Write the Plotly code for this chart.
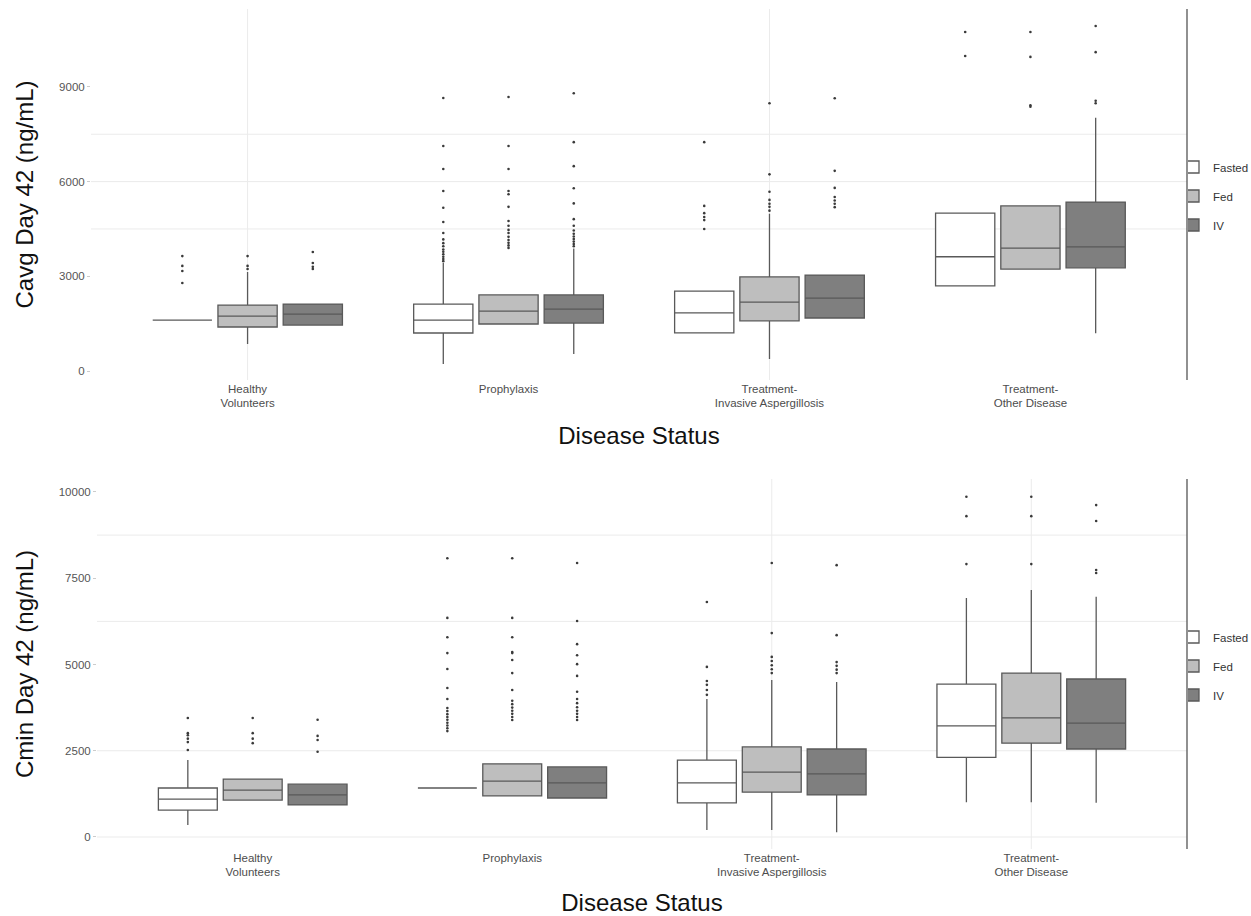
import plotly.graph_objects as go

# Disease-status categories shown on both panels
categories = ["Healthy<br>Volunteers", "Prophylaxis",
              "Treatment-<br>Invasive Aspergillosis", "Treatment-<br>Other Disease"]
routes = ["Fasted", "Fed", "IV"]
route_fill = {"Fasted": "#ffffff", "Fed": "#bebebe", "IV": "#7f7f7f"}
route_offset = {"Fasted": -0.25, "Fed": 0.0, "IV": 0.25}

# ---- Cavg Day 42 (ng/mL): box summaries per route, one value per category ----
cavg_q1 = {"Fasted": [1615, 1205, 1210, 2700], "Fed": [1394, 1490, 1590, 3230], "IV": [1457, 1520, 1680, 3270]}
cavg_med = {"Fasted": [1615, 1615, 1840, 3620], "Fed": [1742, 1900, 2180, 3890], "IV": [1805, 1960, 2310, 3930]}
cavg_q3 = {"Fasted": [1615, 2120, 2530, 5000], "Fed": [2090, 2410, 2980, 5230], "IV": [2120, 2410, 3040, 5350]}
cavg_lo = {"Fasted": [1615, 222, 1210, 2700], "Fed": [855, 1490, 380, 3230], "IV": [1457, 540, 1680, 1200]}
cavg_hi = {"Fasted": [1615, 3420, 2530, 5000], "Fed": [3136, 2410, 4980, 5230], "IV": [2120, 3880, 3040, 8020]}
cavg_out = {
    "Fasted": [[2790, 3170, 3330, 3640],
               [3480, 3550, 3620, 3700, 3780, 3850, 3950, 4050, 4170, 4370, 4720, 5170, 5700, 6400, 7130, 8650],
               [4500, 4780, 4880, 5000, 5230, 7250],
               [9980, 10740]],
    "Fed": [[3230, 3330, 3640],
            [3900, 3980, 4060, 4150, 4250, 4370, 4470, 4600, 4750, 5200, 5600, 5700, 6400, 7130, 8680],
            [5080, 5200, 5300, 5420, 5680, 6230, 8480],
            [8370, 8420, 9950, 10740]],
    "IV": [[3230, 3300, 3420, 3770],
           [3950, 4020, 4100, 4180, 4260, 4350, 4450, 4600, 4810, 5310, 5790, 6490, 7250, 8800],
           [5190, 5300, 5400, 5510, 5800, 6340, 8640],
           [8480, 8560, 10100, 10930]],
}

# ---- Cmin Day 42 (ng/mL) ----
cmin_q1 = {"Fasted": [780, 1420, 990, 2310], "Fed": [1070, 1190, 1300, 2720], "IV": [930, 1130, 1220, 2550]}
cmin_med = {"Fasted": [1100, 1420, 1570, 3220], "Fed": [1360, 1620, 1880, 3450], "IV": [1220, 1570, 1830, 3300]}
cmin_q3 = {"Fasted": [1420, 1420, 2230, 4430], "Fed": [1680, 2120, 2610, 4750], "IV": [1530, 2030, 2550, 4580]}
cmin_lo = {"Fasted": [350, 1420, 200, 1010], "Fed": [1070, 1190, 200, 1010], "IV": [930, 1130, 140, 990]}
cmin_hi = {"Fasted": [2230, 1420, 4000, 6930], "Fed": [1680, 2120, 4550, 7160], "IV": [1530, 2030, 4490, 6960]}
cmin_out = {
    "Fasted": [[2520, 2750, 2850, 2950, 3010, 3450],
               [3070, 3150, 3230, 3310, 3400, 3480, 3560, 3650, 3740, 4000, 4320, 4870, 5330, 5790, 6350, 8080],
               [4120, 4260, 4410, 4520, 4930, 6810],
               [7910, 9300, 9860]],
    "Fed": [[2720, 2850, 3010, 3450],
            [3390, 3480, 3570, 3660, 3750, 3850, 3950, 4260, 4750, 5130, 5330, 5360, 5790, 6350, 8080],
            [4750, 4860, 4980, 5100, 5220, 5910, 7940],
            [7910, 9300, 9860]],
    "IV": [[2470, 2810, 2930, 3400],
           [3390, 3480, 3570, 3660, 3760, 3880, 4000, 4210, 4670, 5010, 5270, 5590, 6260, 7940],
           [4750, 4850, 4960, 5070, 5850, 7880],
           [7650, 7740, 9160, 9620]],
}

# Axis ticks and light reference grid values
cavg_ticks = [0, 3000, 6000, 9000]
cmin_ticks = [0, 2500, 5000, 7500, 10000]
cavg_hgrid = [4500, 6000, 7500]
cmin_hgrid = [0, 2500, 6250, 8750]
cavg_vgrid = [0, 2]
cmin_vgrid = [2, 3]

LINE = "#595959"
BOX_W = 0.227

fig = go.Figure()


def add_panel(q1, med, q3, lo, hi, out, xa, ya, legend):
    for r in routes:
        xs = [i + route_offset[r] for i in range(len(categories))]
        fig.add_trace(go.Box(
            x=xs, q1=q1[r], median=med[r], q3=q3[r],
            lowerfence=lo[r], upperfence=hi[r],
            width=BOX_W, whiskerwidth=0, boxpoints=False,
            fillcolor=route_fill[r], line=dict(color=LINE, width=1.3),
            name=r, legend=legend, legendgroup=legend + r,
            xaxis=xa, yaxis=ya, hoverinfo="skip",
        ))
        px, py = [], []
        for x, vals in zip(xs, out[r]):
            px += [x] * len(vals)
            py += vals
        fig.add_trace(go.Scatter(
            x=px, y=py, mode="markers",
            marker=dict(size=2.6, color="#3a3a3a"),
            showlegend=False, xaxis=xa, yaxis=ya, hoverinfo="skip",
        ))


add_panel(cavg_q1, cavg_med, cavg_q3, cavg_lo, cavg_hi, cavg_out, "x", "y", "legend")
add_panel(cmin_q1, cmin_med, cmin_q3, cmin_lo, cmin_hi, cmin_out, "x2", "y2", "legend2")

GRID = "#ebebeb"
shapes = []
for xa, ya, hg, vg in (("x", "y", cavg_hgrid, cavg_vgrid), ("x2", "y2", cmin_hgrid, cmin_vgrid)):
    for v in hg:
        shapes.append(dict(type="line", xref=f"{xa} domain", yref=ya, x0=0, x1=1, y0=v, y1=v,
                           line=dict(color=GRID, width=1), layer="below"))
    for v in vg:
        shapes.append(dict(type="line", xref=xa, yref=f"{ya} domain", x0=v, x1=v, y0=0, y1=1,
                           line=dict(color=GRID, width=1), layer="below"))
    # vertical rule on the right edge of each panel
    shapes.append(dict(type="line", xref=f"{xa} domain", yref=f"{ya} domain", x0=1, x1=1, y0=0, y1=1,
                       line=dict(color="#555555", width=1.3)))

FONT = "Liberation Sans, Arial, sans-serif"
xcommon = dict(range=[-0.6, 3.6], tickmode="array", tickvals=list(range(len(categories))),
               ticktext=categories, showgrid=False, zeroline=False, showline=False, ticks="",
               tickfont=dict(size=11.5, color="#4d4d4d", family=FONT),
               title=dict(text="Disease Status", font=dict(size=24, color="#111111", family=FONT), standoff=18),
               automargin=False, fixedrange=True)
ycommon = dict(showgrid=False, zeroline=False, showline=False, ticks="outside", ticklen=3,
               tickformat="d",
               tickcolor="#cccccc", tickfont=dict(size=11.5, color="#555555", family=FONT),
               automargin=False, fixedrange=True)

# legends sit just right of each panel's rule; entries pulled slightly left
legend_style = dict(xref="container", yref="container", xanchor="left", yanchor="middle",
                    indentation=-15,
                    font=dict(size=11.5, color="#333333", family=FONT), bgcolor="rgba(0,0,0,0)",
                    itemclick=False, itemdoubleclick=False)

fig.update_layout(
    width=1251, height=916,
    margin=dict(l=91, r=64, t=9, b=67),
    paper_bgcolor="white", plot_bgcolor="white",
    boxmode="overlay",
    font=dict(family=FONT),
    xaxis=dict(domain=[0, 1], anchor="y", **xcommon),
    xaxis2=dict(domain=[6 / 1096, 1], anchor="y2", **xcommon),
    yaxis=dict(domain=[0.5583, 1], anchor="x", range=[-285, 11467], tickvals=cavg_ticks,
               title=dict(text="Cavg Day 42 (ng/mL)", font=dict(size=24, color="#111111", family=FONT), standoff=18),
               **ycommon),
    yaxis2=dict(domain=[0, 0.4405], anchor="x2", range=[-348, 10377], tickvals=cmin_ticks,
                title=dict(text="Cmin Day 42 (ng/mL)", font=dict(size=24, color="#111111", family=FONT), standoff=18),
                **ycommon),
    legend=dict(x=1188 / 1251, y=1 - 196 / 916, **legend_style),
    legend2=dict(x=1188 / 1251, y=1 - 666 / 916, **legend_style),
    shapes=shapes,
)

fig.write_html("out.html")
